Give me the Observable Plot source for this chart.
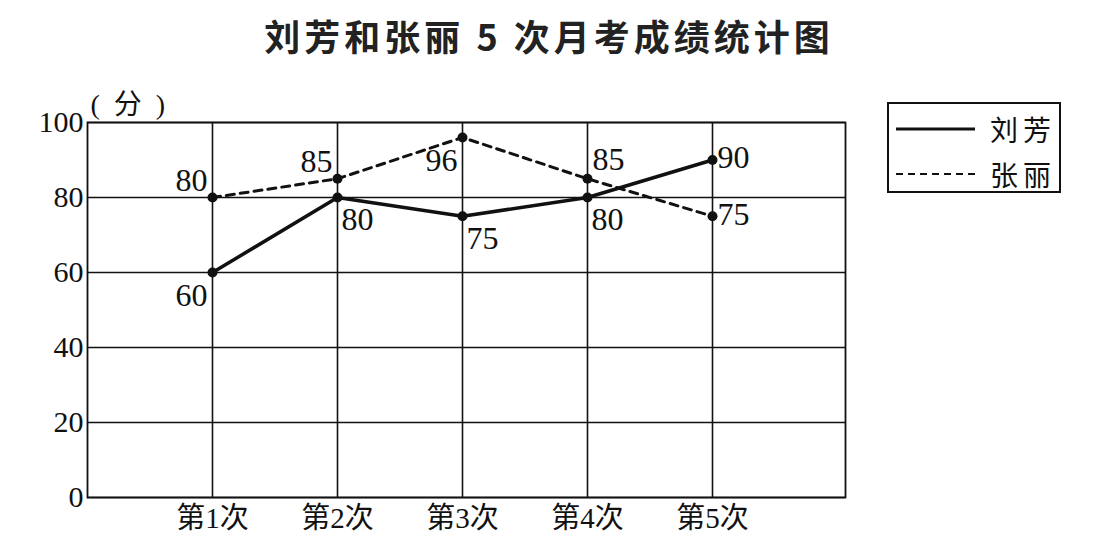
<!DOCTYPE html>
<html><head><meta charset="utf-8">
<script src="https://cdn.jsdelivr.net/npm/d3@7"></script>
<script src="https://cdn.jsdelivr.net/npm/@observablehq/plot@0.6"></script>
<style>
html,body{margin:0;padding:0;background:#fff;}
body{width:1098px;height:549px;overflow:hidden;position:relative;font-family:"Liberation Serif","Noto Sans CJK SC",serif;color:#111;}
#title{height:72px;line-height:70px;text-align:center;font-family:"Noto Sans CJK SC",sans-serif;font-weight:700;font-size:36px;letter-spacing:4px;color:#222;}
#legend{position:absolute;left:887px;top:102px;}
</style>
</head><body>
<div id="title">刘芳和张丽 5 次月考成绩统计图</div>
<div id="chart"></div>
<div id="legend"></div>
<script>
const exams = ["第1次", "第2次", "第3次", "第4次", "第5次"];
const liuFang = [60, 80, 75, 80, 90];
const zhangLi = [80, 85, 96, 85, 75];
const yTicks = [0, 20, 40, 60, 80, 100];
const seriesNames = ["刘芳", "张丽"];
const yUnit = "(\u2002分\u2002)";

// label placement around each point (separate from the data)
const liuFangLabelPlace = ["sw", "se", "se", "se", "e"];
const zhangLiLabelPlace = ["nw", "nw", "sw", "ne", "e"];

const placements = {
  nw: {dx: -5, dy: -17, textAnchor: "end"},
  sw: {dx: -5, dy: 23, textAnchor: "end"},
  se: {dx: 4, dy: 22, textAnchor: "start"},
  ne: {dx: 5, dy: -19, textAnchor: "start"},
  e:  {dx: 5, dy: -2, textAnchor: "start"}
};

const rows = [];
exams.forEach((e, i) => {
  rows.push({exam: e, score: liuFang[i], name: seriesNames[0], place: liuFangLabelPlace[i]});
  rows.push({exam: e, score: zhangLi[i], name: seriesNames[1], place: zhangLiLabelPlace[i]});
});

const ink = "#111";
const serif = "'Liberation Serif','Noto Sans CJK SC',serif";

const chart = Plot.plot({
  width: 1098,
  height: 477,
  marginTop: 50,
  marginBottom: 52,
  marginLeft: 87,
  marginRight: 253,
  style: {fontFamily: serif, background: "#fff", color: ink, overflow: "visible"},
  x: {type: "point", domain: exams, padding: 1.032, align: 0.4845},
  y: {domain: [0, 100]},
  marks: [
    Plot.ruleY(yTicks, {stroke: ink, strokeWidth: 1.6}),
    Plot.ruleX(exams, {stroke: ink, strokeWidth: 1.6}),
    Plot.frame({stroke: ink, strokeWidth: 1.8}),
    Plot.axisY({ticks: yTicks, tickSize: 0, tickPadding: 4, fontSize: 30, fill: ink, label: null, fontFamily: serif}),
    Plot.axisX({tickSize: 0, tickPadding: 10, fontSize: 29, fill: ink, label: null, fontFamily: serif}),
    Plot.text([yUnit], {frameAnchor: "top-left", dx: 3, dy: -28, textAnchor: "start", fontSize: 28, fill: ink, fontFamily: serif}),
    Plot.line(rows.filter(d => d.name === seriesNames[0]), {x: "exam", y: "score", stroke: ink, strokeWidth: 3.5}),
    Plot.line(rows.filter(d => d.name === seriesNames[1]), {x: "exam", y: "score", stroke: ink, strokeWidth: 3, strokeDasharray: "8,6"}),
    Plot.dot(rows, {x: "exam", y: "score", r: 5, fill: ink, stroke: "none"}),
    ...Object.entries(placements).map(([k, p]) =>
      Plot.text(rows.filter(d => d.place === k), {x: "exam", y: "score", text: d => String(d.score), ...p, fontSize: 32, fill: ink, fontFamily: serif})
    )
  ]
});
document.getElementById("chart").appendChild(chart);

// legend
const lg = d3.select("#legend").append("svg").attr("width", 175).attr("height", 92);
lg.append("rect").attr("x", 1).attr("y", 1).attr("width", 172).attr("height", 89)
  .attr("fill", "#fff").attr("stroke", ink).attr("stroke-width", 2);
const legendRows = [
  {name: seriesNames[0], dash: null, w: 3},
  {name: seriesNames[1], dash: "7,5", w: 2.2}
];
legendRows.forEach((r, i) => {
  const cy = 27 + i * 45;
  lg.append("line").attr("x1", 9).attr("x2", 88).attr("y1", cy).attr("y2", cy)
    .attr("stroke", ink).attr("stroke-width", r.w).attr("stroke-dasharray", r.dash);
  lg.append("text").attr("x", 103).attr("y", cy).attr("dominant-baseline", "central")
    .attr("font-family", "'Noto Sans CJK SC',sans-serif").attr("font-size", 28)
    .attr("letter-spacing", "5px").attr("fill", ink).text(r.name);
});
</script>
</body></html>
